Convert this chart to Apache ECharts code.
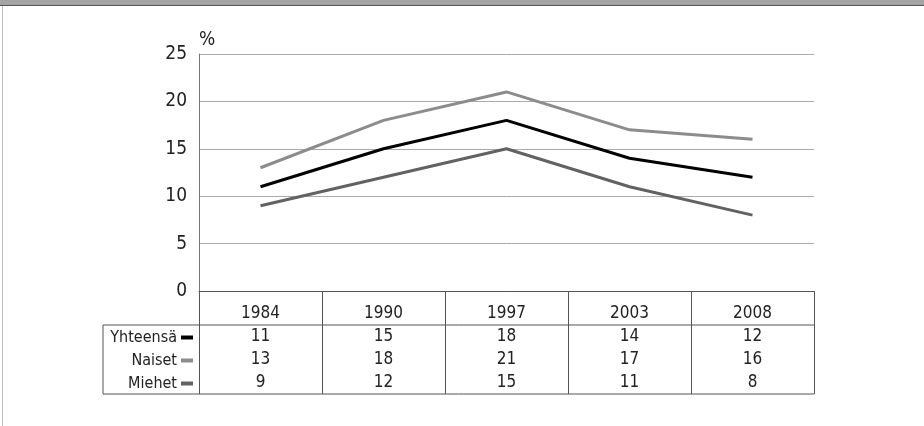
<!DOCTYPE html>
<html>
<head>
<meta charset="utf-8">
<script src="https://cdn.jsdelivr.net/npm/echarts@6/dist/echarts.min.js"></script>
<style>
  html, body { margin: 0; padding: 0; background: #fff; }
  .wrap { position: relative; width: 924px; height: 426px; overflow: hidden; }
  #chart { position: absolute; left: 0; top: 0; width: 924px; height: 426px; }
  .band { position: absolute; left: 0; top: 0; width: 924px; height: 5px; background: #a4a4a4; border-bottom: 1px solid #555; }
  .side { position: absolute; left: 2px; top: 6px; width: 1px; height: 420px; background: #bdbdbd; }
</style>
</head>
<body>
<div class="wrap">
  <div id="chart"></div>
  <div class="band"></div>
  <div class="side"></div>
</div>
<script>
const years = ["1984", "1990", "1997", "2003", "2008"];
const yhteensa = [11, 15, 18, 14, 12];
const naiset = [13, 18, 21, 17, 16];
const miehet = [9, 12, 15, 11, 8];
const yTicks = [0, 5, 10, 15, 20, 25];

const rows = [
  { name: "Yhteensä", data: yhteensa, color: "#000000" },
  { name: "Naiset", data: naiset, color: "#8c8c8c" },
  { name: "Miehet", data: miehet, color: "#626262" }
];

const font = "'DejaVu Sans Condensed', 'Liberation Sans Narrow', 'Open Sans', sans-serif";
const grid = { left: 199, right: 110, top: 54, bottom: 135 };
const yearRowH = 34;
const rowH = 23;
const labelColLeft = 103;

const chart = echarts.init(document.getElementById("chart"));

function valueAxis(row, i) {
  return {
    type: "category",
    gridIndex: 0,
    position: "bottom",
    data: years,
    boundaryGap: true,
    axisLine: { show: false },
    axisTick: { show: false },
    splitLine: { show: false },
    axisLabel: {
      margin: yearRowH + rowH * i + 3,
      fontFamily: font,
      fontSize: 17,
      color: "#222",
      interval: 0,
      formatter: (v, idx) => String(row.data[idx])
    }
  };
}

const option = {
  animation: false,
  grid: Object.assign({ containLabel: false }, grid),
  xAxis: [
    {
      type: "category",
      data: years,
      boundaryGap: true,
      axisLine: { lineStyle: { color: "#555", width: 1 } },
      axisTick: { show: true, interval: 0, length: yearRowH + rowH * 3, lineStyle: { color: "#555" } },
      axisLabel: { margin: 14, fontFamily: font, fontSize: 17, color: "#222", interval: 0 },
      splitLine: { show: false }
    }
  ].concat(rows.map(valueAxis)),
  yAxis: {
    type: "value",
    min: yTicks[0],
    max: yTicks[yTicks.length - 1],
    interval: 5,
    name: "%",
    nameLocation: "end",
    nameGap: 14,
    nameTextStyle: { fontFamily: font, fontSize: 19, color: "#222", align: "left", verticalAlign: "middle" },
    axisLine: { show: true, lineStyle: { color: "#777" } },
    axisTick: { show: false },
    axisLabel: { margin: 12, fontFamily: font, fontSize: 19, color: "#222" },
    splitLine: { lineStyle: { color: "#aaa", width: 1 } }
  },
  series: rows.slice().reverse().map(r => ({
    name: r.name,
    type: "line",
    data: r.data,
    symbol: "none",
    lineStyle: { color: r.color, width: 3 },
    z: r.name === "Yhteensä" ? 5 : 3
  }))
};
chart.setOption(option);

// table frame and row labels, placed from the grid's own coordinates
const axisY = chart.convertToPixel({ yAxisIndex: 0 }, 0);
const leftX = chart.convertToPixel({ gridIndex: 0 }, [years[0], 0])[0] - (chart.getWidth() - grid.left - grid.right) / years.length / 2;
const rightX = chart.getWidth() - grid.right;
const headY = axisY + yearRowH;
const bottomY = headY + rowH * 3;
const lineStyle = { stroke: "#555", lineWidth: 1 };
const graphics = [
  { type: "line", shape: { x1: labelColLeft, y1: headY, x2: rightX, y2: headY }, style: lineStyle },
  { type: "line", shape: { x1: labelColLeft, y1: bottomY, x2: rightX, y2: bottomY }, style: lineStyle },
  { type: "line", shape: { x1: labelColLeft, y1: headY, x2: labelColLeft, y2: bottomY }, style: lineStyle }
];
rows.forEach((r, i) => {
  const cy = headY + rowH * i + rowH / 2 + 1;
  graphics.push({
    type: "text",
    x: leftX - 22,
    y: cy,
    style: { text: r.name, fontFamily: font, fontSize: 16, fill: "#222", align: "right", verticalAlign: "middle" }
  });
  graphics.push({
    type: "rect",
    shape: { x: leftX - 18, y: cy - 2, width: 12, height: 4 },
    style: { fill: r.color }
  });
});
chart.setOption({ graphic: graphics });
</script>
</body>
</html>
